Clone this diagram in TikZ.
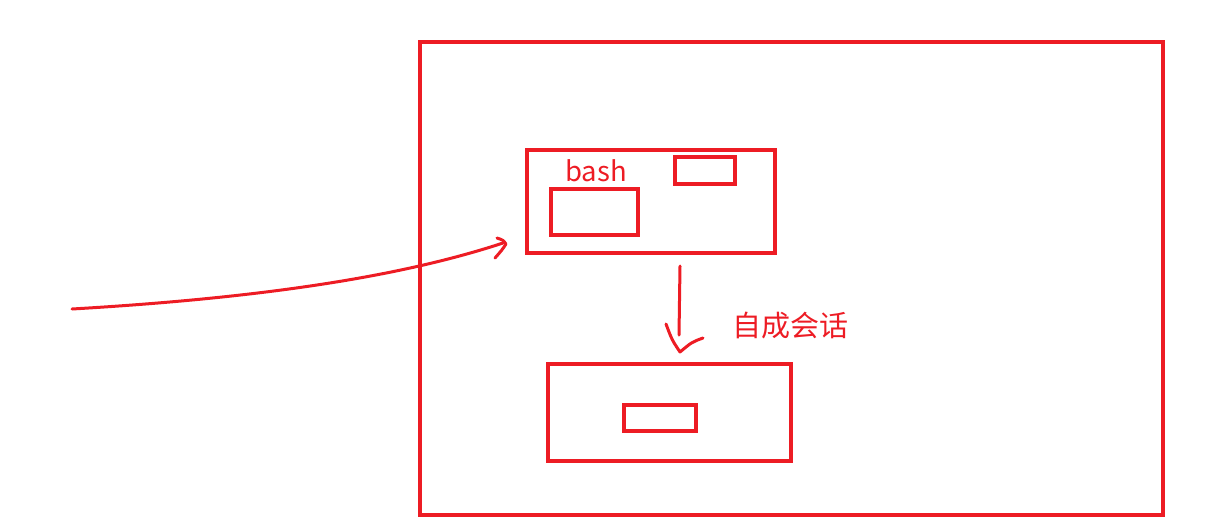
\documentclass[tikz,border=0pt]{standalone}
\usepackage{fontspec}
\newfontfamily\cjk{Noto Sans CJK SC}
\definecolor{pen}{RGB}{237,28,36}
\begin{document}
\begin{tikzpicture}[x=1pt,y=-1pt,
  box/.style={draw=pen,line width=4pt,inner sep=0pt,minimum width=#1},
  stroke/.style={draw=pen,line width=3pt,line cap=round,line join=round},
  lbl/.style={text=pen,inner sep=0pt,font=\cjk\fontsize{27.5}{27.5}\selectfont}]
\useasboundingbox (0,0) rectangle (1220,531);
% outer frame
\draw[pen,line width=4pt] (420,42) rectangle (1163,515);
% bash box
\node[box=248pt,minimum height=103pt] (bashbox) at (651,201.5) {};
\node[box=60pt,minimum height=27pt] (bsmall) at (705,170.5) {};
\node[box=87pt,minimum height=46pt] (bleft) at (594.5,212) {};
\node[lbl] (bash) at (596,171) {bash};
% lower box
\node[box=243pt,minimum height=97pt] (lower) at (669.5,412.5) {};
\node[box=72pt,minimum height=26pt] (lsmall) at (660,418) {};
% label
\node[lbl,font=\cjk\fontsize{29}{29}\selectfont] (sess) at (790,326) {自成会话};
% curved arrow from left
\coordinate (s) at (72,309);
\coordinate (e) at (503,243);
\draw[stroke] (s) .. controls (260,298) and (400,277) .. (e);
\draw[stroke] (497,238) .. controls (503,240) .. (506,244) .. controls (502,250) .. (495,258);
% down arrow
\coordinate (d1) at (680,266);
\coordinate (d2) at (680,352);
\draw[stroke] (d1) -- (679,335);
\draw[stroke] (666,324) .. controls (672,340) .. (d2) .. controls (692,342) .. (703,338);
\end{tikzpicture}
\end{document}
